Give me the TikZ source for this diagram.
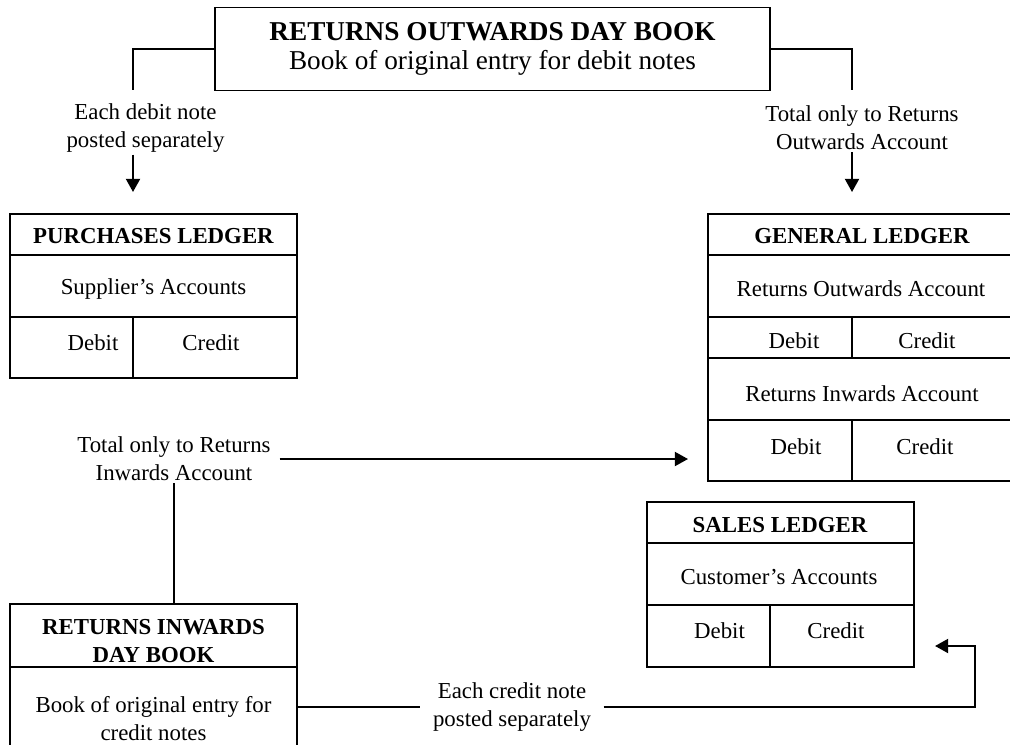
\documentclass[tikz,border=0pt]{standalone}
\usepackage{fontspec}
\setmainfont{Liberation Serif}
\usetikzlibrary{arrows.meta}

\tikzset{
  box/.style={draw, line width=1.1pt, inner sep=0pt},
  note/.style={align=center, inner xsep=5pt, inner ysep=1pt},
  head/.style={font=\fontsize{13}{16}\selectfont\bfseries, align=center},
  link/.style={line width=1.1pt},
  tip/.style={-{Triangle[length=7.5pt,width=8pt]}}
}

\begin{document}
\begin{tikzpicture}[x=0.02cm,y=-0.02cm,
  every node/.append style={font=\fontsize{13}{16}\selectfont}]
\useasboundingbox (0,0) rectangle (1010,744);
\clip (0,0) rectangle (1010,744);

% Returns outwards day book
\node[box, minimum width=11.1cm, minimum height=1.66cm, align=center,
  font=\fontsize{15.5}{16.5}\selectfont] (rodb) at (492.5,49)
  {\textbf{RETURNS OUTWARDS DAY BOOK}\\Book of original entry for debit notes};

\node[note] (dnote) at (145.5,128) {Each debit note\\posted separately};
\node[note] (onote) at (862,128) {Total only to Returns\\Outwards Account};
\coordinate (dl) at (133,90);
\coordinate (dr) at (852,90);
\coordinate (da) at (133,192);
\coordinate (oa) at (852,192);
\draw[link] (rodb.west) -| (dl);
\draw[link] (rodb.east) -| (dr);
\draw[link,tip] (dnote.south -| da) -- (da);
\draw[link,tip] (onote.south -| oa) -- (oa);

% Purchases ledger
\node[box, minimum width=5.74cm, minimum height=3.28cm] (pl) at (153.5,296) {};
\draw[link] (pl.west |- 0,255) -- (pl.east |- 0,255);
\draw[link] (pl.west |- 0,317) -- (pl.east |- 0,317);
\draw[link] (133,317) -- (pl.south -| 133,0);
\node[head] (plt) at (153.5,236) {PURCHASES LEDGER};
\node (pls) at (153.5,289) {Supplier’s Accounts};
\node (pld) at (93,343) {Debit};
\node (plc) at (211,343) {Credit};

% General ledger
\node[box, minimum width=6.16cm, minimum height=5.34cm] (gl) at (862,347.5) {};
\foreach \y in {255,317,358,420}
  \draw[link] (gl.west |- 0,\y) -- (gl.east |- 0,\y);
\draw[link] (852,317) -- (852,358);
\draw[link] (852,420) -- (gl.south -| 852,0);
\node[head] (glt) at (862,236) {GENERAL LEDGER};
\node (glo) at (861,289) {Returns Outwards Account};
\node (glod) at (794,341) {Debit};
\node (gloc) at (927,341) {Credit};
\node (gli) at (862,394) {Returns Inwards Account};
\node (glid) at (796,447) {Debit};
\node (glic) at (925,447) {Credit};

% Sales ledger
\node[box, minimum width=5.34cm, minimum height=3.3cm] (sl) at (780.5,584.5) {};
\draw[link] (sl.west |- 0,543) -- (sl.east |- 0,543);
\draw[link] (sl.west |- 0,605) -- (sl.east |- 0,605);
\draw[link] (770,605) -- (sl.south -| 770,0);
\node[head] (slt) at (780,525) {SALES LEDGER};
\node (slc) at (779,577) {Customer’s Accounts};
\node (sld) at (719.5,631) {Debit};
\node (slk) at (836,631) {Credit};

% Returns inwards day book
\node[box, minimum width=5.74cm, minimum height=3.72cm] (ridb) at (153.5,697) {};
\draw[link] (ridb.west |- 0,667) -- (ridb.east |- 0,667);
\node[head] (ridt) at (153.5,641) {RETURNS INWARDS\\DAY BOOK};
\node[align=center] (rids) at (153.5,719) {Book of original entry for\\credit notes};

\node[note] (tinote) at (174,459) {Total only to Returns\\Inwards Account};
\coordinate (ta) at (688,459);
\draw[link,tip] (tinote.east) -- (ta);
\draw[link] (tinote.south) -- (tinote.south |- ridb.north);

\node[note, inner xsep=7pt] (cnote) at (512,707) {Each credit note\\posted separately};
\coordinate (cr) at (975,646);
\coordinate (ca) at (935,646);
\draw[link] (ridb.east |- cnote) -- (cnote.west);
\draw[link,tip] (cnote.east) -| (cr) -- (ca);

\end{tikzpicture}
\end{document}
